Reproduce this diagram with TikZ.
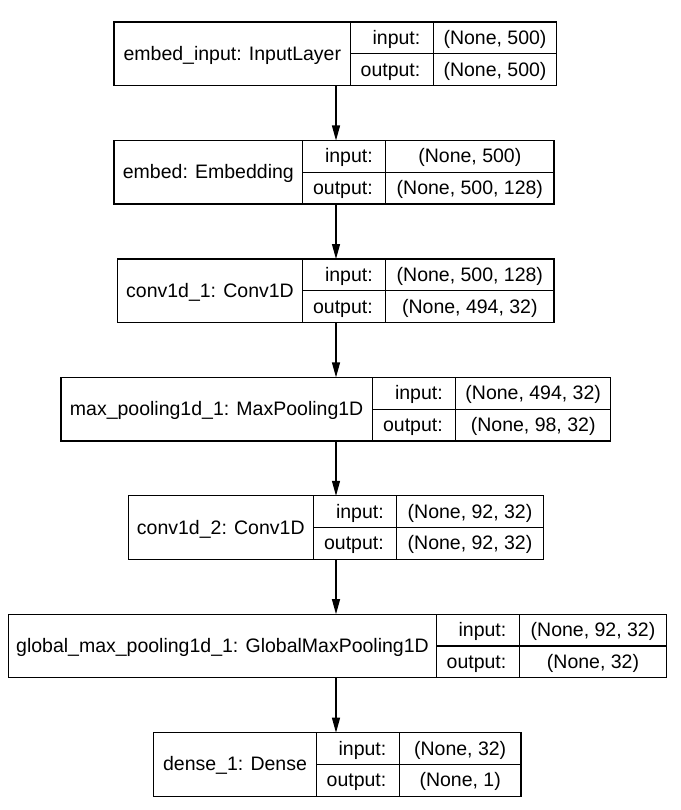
\documentclass[tikz,border=0pt]{standalone}
\usepackage{fontspec}
\setmainfont{Liberation Sans}
\usetikzlibrary{arrows.meta}
\newcommand\fs{\fontsize{19.5}{23}\selectfont}
\tikzset{
  cellbox/.style={draw=black, line width=1.2pt, inner sep=0pt, outer sep=0pt, anchor=north west},
  txt/.style={inner sep=0pt, outer sep=0pt, font=\fs, text=black},
  flow/.style={draw=black, line width=1.2pt, -{Triangle[length=15pt,width=8pt]}}
}
% #1 id, #2 left, #3 div1, #4 div2, #5 right, #6 top, #7 name, #8 input shape, #9 output shape
\newcommand\layerbox[9]{%
  \pgfmathsetmacro\Lwa{#3-#2}%
  \pgfmathsetmacro\Lwb{#4-#3}%
  \pgfmathsetmacro\Lwc{#5-#4}%
  \pgfmathsetmacro\Lwt{#5-#2}%
  \node[cellbox, draw=none, minimum width=\Lwt pt, minimum height=63.5pt] (#1) at (#2,#6) {};
  \node[cellbox, minimum width=\Lwa pt, minimum height=63.5pt] (#1-n) at (#2,#6) {};
  \node[cellbox, minimum width=\Lwb pt, minimum height=31.75pt] (#1-li) at (#3,#6) {};
  \node[cellbox, minimum width=\Lwb pt, minimum height=31.75pt] (#1-lo) at (#3,#6+31.75) {};
  \node[cellbox, minimum width=\Lwc pt, minimum height=31.75pt] (#1-vi) at (#4,#6) {};
  \node[cellbox, minimum width=\Lwc pt, minimum height=31.75pt] (#1-vo) at (#4,#6+31.75) {};
  \node[txt, anchor=base, yshift=-6.5pt] (#1-nt) at (#1-n.center) {#7};
  \node[txt, anchor=base east, xshift=-13pt, yshift=-6.5pt] (#1-lit) at (#1-li.east) {input:};
  \node[txt, anchor=base east, xshift=-13pt, yshift=-6.5pt] (#1-lot) at (#1-lo.east) {output:};
  \node[txt, anchor=base, yshift=-6.5pt] (#1-vit) at (#1-vi.center) {#8};
  \node[txt, anchor=base, yshift=-6.5pt] (#1-vot) at (#1-vo.center) {#9};
}
\begin{document}
\begin{tikzpicture}[x=1pt, y=-1pt]
\useasboundingbox (0,0) rectangle (680,810);
\layerbox{L1}{114}{350.7}{433.3}{556.7}{22}{embed\_input: InputLayer}{(None, 500)}{(None, 500)}
\layerbox{L2}{114}{302.7}{385.7}{554}{140.5}{embed: Embedding}{(None, 500)}{(None, 500, 128)}
\layerbox{L3}{117.3}{302.7}{385.7}{554}{259}{conv1d\_1: Conv1D}{(None, 500, 128)}{(None, 494, 32)}
\layerbox{L4}{61}{372.3}{455.7}{610.7}{377.4}{max\_pooling1d\_1: MaxPooling1D}{(None, 494, 32)}{(None, 98, 32)}
\layerbox{L5}{128.3}{313.3}{396.7}{543.3}{495.8}{conv1d\_2: Conv1D}{(None, 92, 32)}{(None, 92, 32)}
\layerbox{L6}{8.3}{436.7}{519.3}{666.7}{614.2}{global\_max\_pooling1d\_1: GlobalMaxPooling1D}{(None, 92, 32)}{(None, 32)}
\layerbox{L7}{153.3}{316.7}{399.3}{521}{732.7}{dense\_1: Dense}{(None, 32)}{(None, 1)}
\coordinate (ax) at (336,0);
\draw[flow] (L1.south -| ax) -- (L2.north -| ax);
\draw[flow] (L2.south -| ax) -- (L3.north -| ax);
\draw[flow] (L3.south -| ax) -- (L4.north -| ax);
\draw[flow] (L4.south -| ax) -- (L5.north -| ax);
\draw[flow] (L5.south -| ax) -- (L6.north -| ax);
\draw[flow] (L6.south -| ax) -- (L7.north -| ax);
\end{tikzpicture}
\end{document}
